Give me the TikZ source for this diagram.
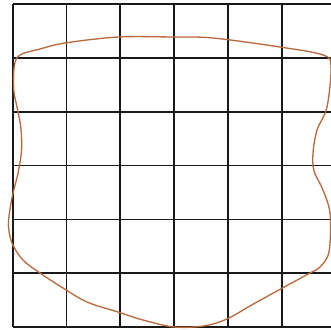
\documentclass[tikz,border=0pt]{standalone}
\usepackage{xcolor}
\usepackage{tikz}
\definecolor{blobbrown}{RGB}{185,105,60}
\tikzset{
  gridline/.style={line width=0.9pt, draw=black!90, line cap=butt},
  blobline/.style={line width=0.7pt, draw=blobbrown, line join=round},
}
\begin{document}
\begin{tikzpicture}
\useasboundingbox (-0.236,-0.037) rectangle (5.916,6.078);
\draw[gridline] (0,0) -- (5.916,0);
\draw[gridline] (0,1) -- (5.916,1);
\draw[gridline] (0,2) -- (5.916,2);
\draw[gridline] (0,3) -- (5.916,3);
\draw[gridline] (0,4) -- (5.916,4);
\draw[gridline] (0,5) -- (5.916,5);
\draw[gridline] (0,6) -- (5.916,6);
\draw[gridline] (0,0) -- (0,6);
\draw[gridline] (1,0) -- (1,6);
\draw[gridline] (2,0) -- (2,6);
\draw[gridline] (3,0) -- (3,6);
\draw[gridline] (4,0) -- (4,6);
\draw[gridline] (5,0) -- (5,6);
\draw[blobline] plot[smooth cycle, tension=0.55] coordinates {
  (0.136,5.056) (0.507,5.167) (0.972,5.279) (1.957,5.390) (2.980,5.390)
  (3.723,5.372) (4.968,5.204) (5.768,5.056) (5.916,4.850)
  (5.842,4.089) (5.656,3.662) (5.582,3.234) (5.600,2.900) (5.768,2.546)
  (5.900,2.100) (5.880,1.400) (5.712,1.115) (5.526,1.004)
  (4.968,0.700) (4.460,0.420) (3.983,0.150) (3.550,0.020) (3.000,0.000)
  (2.422,0.130) (1.957,0.279) (1.381,0.465) (0.935,0.725) (0.507,1.004)
  (0.191,1.245) (-0.013,1.561) (-0.080,1.900) (-0.040,2.250) (0.006,2.491)
  (0.099,2.862) (0.165,3.290) (0.150,3.717) (0.080,4.089) (0.020,4.405)
  (0.030,4.850)};
\end{tikzpicture}
\end{document}
